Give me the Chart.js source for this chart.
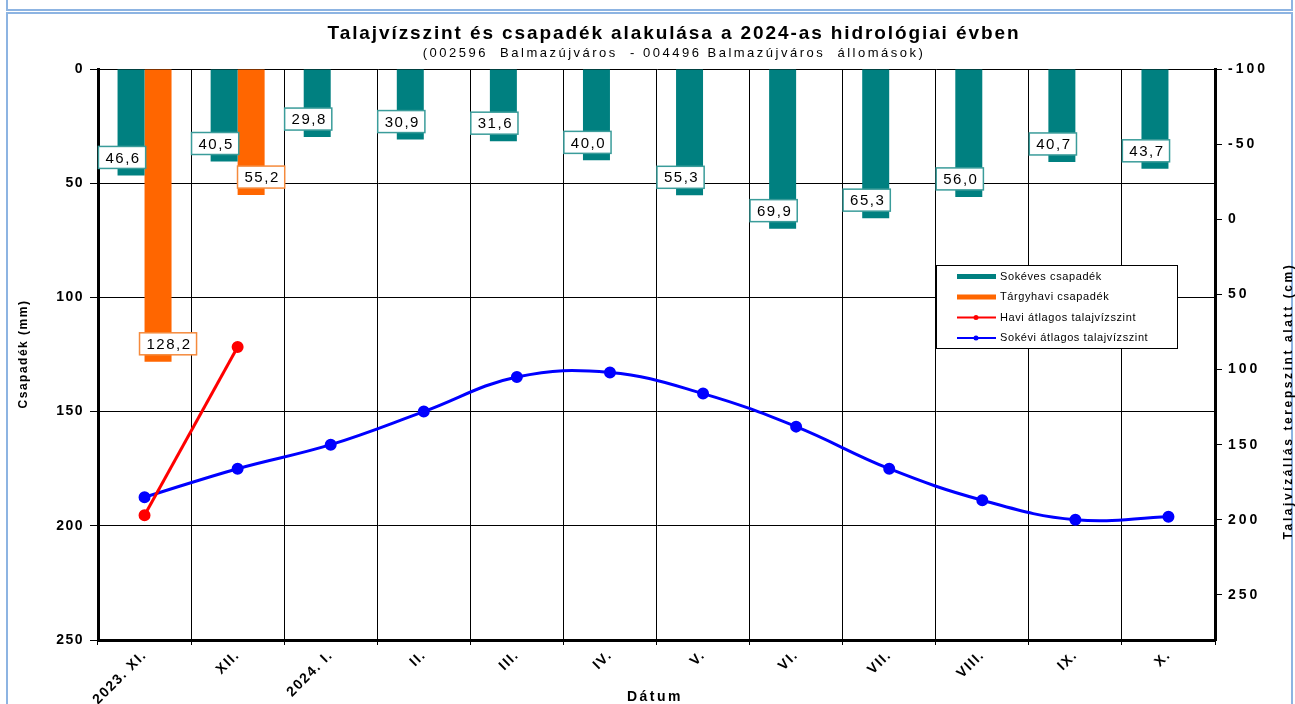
<!DOCTYPE html>
<html>
<head>
<meta charset="utf-8">
<script src="https://cdn.jsdelivr.net/npm/chart.js@4.4.1/dist/chart.umd.min.js"></script>
<style>
  html, body { margin: 0; padding: 0; background: #fff; overflow: hidden; }
  #wrap { position: relative; width: 1295px; height: 704px; }
  .frame { position: absolute; border: 2px solid #8db4e2; box-sizing: border-box; }
  #f1 { left: 6px; top: -12px; width: 1287px; height: 23px; }
  #f2 { left: 6px; top: 12px; width: 1287px; height: 720px; }
  canvas { position: absolute; left: 0; top: 0; }
</style>
</head>
<body>
<div id="wrap">
  <div class="frame" id="f1"></div>
  <div class="frame" id="f2"></div>
  <canvas id="chart" width="1295" height="704"></canvas>
</div>
<script>
// adatok
const months = ['2023. XI.', 'XII.', '2024. I.', 'II.', 'III.', 'IV.', 'V.', 'VI.', 'VII.', 'VIII.', 'IX.', 'X.'];
const longTermRain = [46.6, 40.5, 29.8, 30.9, 31.6, 40.0, 55.3, 69.9, 65.3, 56.0, 40.7, 43.7];
const monthRain = [128.2, 55.2, null, null, null, null, null, null, null, null, null, null];
const monthLevel = [197, 85, null, null, null, null, null, null, null, null, null, null];
const longTermLevel = [185, 166, 150, 128, 105, 102, 116, 138, 166, 187, 200, 198];
const rainTicks = [0, 50, 100, 150, 200, 250];
const levelTicks = [-100, -50, 0, 50, 100, 150, 200, 250];

const FONT = 'Arial, "Liberation Sans", sans-serif';
const TEAL = '#008080';
const ORANGE = '#ff6600';

// keretes adatcimkek az oszlopok vegen
const barLabels = {
  id: 'barLabels',
  afterDatasetsDraw(chart) {
    const ctx = chart.ctx;
    chart.data.datasets.forEach((ds, i) => {
      if (ds.type !== 'bar') return;
      const meta = chart.getDatasetMeta(i);
      meta.data.forEach((bar, j) => {
        const v = ds.data[j];
        if (v == null) return;
        const txt = v.toFixed(1).replace('.', ',');
        ctx.save();
        ctx.font = '15px ' + FONT;
        ctx.letterSpacing = '1.5px';
        const w = ctx.measureText(txt).width + 12;
        const h = 22;
        const cx = bar.x + ds.labelDx;
        const cy = bar.y - 18;
        ctx.fillStyle = '#fff';
        ctx.fillRect(cx - w / 2, cy - h / 2, w, h);
        ctx.strokeStyle = ds.labelBorder;
        ctx.lineWidth = 1.5;
        ctx.strokeRect(cx - w / 2, cy - h / 2, w, h);
        ctx.fillStyle = '#000';
        ctx.textAlign = 'center';
        ctx.textBaseline = 'middle';
        ctx.fillText(txt, cx + 1, cy + 1);
        ctx.restore();
      });
    });
  }
};

function vText(ctx, txt, x, y, font, spacing) {
  ctx.save();
  ctx.translate(x, y);
  ctx.rotate(-Math.PI / 2);
  ctx.font = font;
  ctx.letterSpacing = spacing;
  ctx.textAlign = 'center';
  ctx.textBaseline = 'middle';
  ctx.fillText(txt, 0, 0);
  ctx.restore();
}

// cim, tengelycimek, jobb tengely feliratai, jelmagyarazat
const decor = {
  id: 'decor',
  beforeDraw(chart) {
    chart.ctx.letterSpacing = '1.5px';
  },
  afterDraw(chart) {
    const ctx = chart.ctx;
    ctx.save();
    ctx.fillStyle = '#000';
    ctx.textAlign = 'center';
    ctx.textBaseline = 'middle';
    ctx.font = 'bold 19px ' + FONT;
    ctx.letterSpacing = '1.9px';
    ctx.fillText('Talajvízszint és csapadék alakulása a 2024-as hidrológiai évben', 674, 34);
    ctx.font = '13px ' + FONT;
    ctx.letterSpacing = '2.5px';
    ctx.fillText('(002596  Balmazújváros  - 004496 Balmazújváros  állomások)', 674, 53);

    ctx.font = 'bold 14px ' + FONT;
    ctx.letterSpacing = '2.5px';
    ctx.fillText('Dátum', 655, 697);

    vText(ctx, 'Csapadék (mm)', 24, 354, 'bold 12px ' + FONT, '1.5px');
    vText(ctx, 'Talajvízállás terepszint alatt (cm)', 1289, 401, 'bold 12px ' + FONT, '2.6px');

    // jobb tengely
    const y2 = chart.scales.y2;
    ctx.font = 'bold 14px ' + FONT;
    ctx.letterSpacing = '3px';
    ctx.textAlign = 'left';
    levelTicks.forEach(v => {
      ctx.fillText(String(v), y2.left + 13, y2.getPixelForValue(v));
    });
    ctx.restore();

    // jelmagyarazat
    const lx = 936, ly = 265, lw = 241, lh = 83;
    ctx.save();
    ctx.fillStyle = '#fff';
    ctx.fillRect(lx, ly, lw, lh);
    ctx.strokeStyle = '#000';
    ctx.lineWidth = 1;
    ctx.strokeRect(lx + 0.5, ly + 0.5, lw, lh);
    const order = [2, 3, 0, 1];
    ctx.font = '11px ' + FONT;
    ctx.letterSpacing = '0.6px';
    ctx.textBaseline = 'middle';
    order.forEach((di, k) => {
      const ds = chart.data.datasets[di];
      const y = ly + 11.5 + k * 20.5;
      if (ds.type === 'bar') {
        ctx.fillStyle = ds.backgroundColor;
        ctx.fillRect(lx + 21, y - 2.5, 39, 5);
      } else {
        ctx.strokeStyle = ds.borderColor;
        ctx.lineWidth = 2;
        ctx.beginPath();
        ctx.moveTo(lx + 21, y);
        ctx.lineTo(lx + 60, y);
        ctx.stroke();
        ctx.fillStyle = ds.borderColor;
        ctx.beginPath();
        ctx.arc(lx + 40, y, 2.5, 0, Math.PI * 2);
        ctx.fill();
      }
      ctx.fillStyle = '#000';
      ctx.textAlign = 'left';
      ctx.fillText(ds.label, lx + 64, y);
    });
    ctx.restore();
  }
};

new Chart(document.getElementById('chart').getContext('2d'), {
  data: {
    labels: months,
    datasets: [
      { type: 'line', label: 'Havi átlagos talajvízszint', data: monthLevel, yAxisID: 'y2',
        borderColor: '#ff0000', backgroundColor: '#ff0000', borderWidth: 3,
        pointRadius: 4.5, pointHoverRadius: 4.5, tension: 0, order: 0 },
      { type: 'line', label: 'Sokévi átlagos talajvízszint', data: longTermLevel, yAxisID: 'y2',
        borderColor: '#0000ff', backgroundColor: '#0000ff', borderWidth: 3,
        pointRadius: 4.5, pointHoverRadius: 4.5, tension: 0.4, order: 0 },
      { type: 'bar', label: 'Sokéves csapadék', data: longTermRain, yAxisID: 'y',
        backgroundColor: TEAL, order: 1, labelDx: -9, labelBorder: '#3a9c9a' },
      { type: 'bar', label: 'Tárgyhavi csapadék', data: monthRain, yAxisID: 'y',
        backgroundColor: ORANGE, order: 1, labelDx: 10, labelBorder: '#f58a3c' }
    ]
  },
  options: {
    responsive: false,
    animation: false,
    devicePixelRatio: 1,
    layout: { padding: { top: 69, left: 0, right: 0, bottom: 0 } },
    datasets: { bar: { categoryPercentage: 0.58, barPercentage: 1 } },
    plugins: {
      legend: { display: false },
      title: { display: false },
      tooltip: { enabled: false }
    },
    scales: {
      x: {
        grid: { color: '#000', lineWidth: 1, tickLength: 5, offset: true },
        border: { color: '#000', width: 3 },
        ticks: { color: '#000', font: { family: FONT, size: 14, weight: 'bold' },
                 maxRotation: 45, minRotation: 45, autoSkip: false, padding: 2 },
        afterFit(s) { s.height = 64; }
      },
      y: {
        position: 'left', reverse: true, min: 0, max: 250,
        afterBuildTicks(s) { s.ticks = rainTicks.map(v => ({ value: v })); },
        grid: { color: '#000', lineWidth: 1, tickLength: 8 },
        border: { color: '#000', width: 3 },
        ticks: { color: '#000', font: { family: FONT, size: 14, weight: 'bold' }, padding: 6 },
        afterFit(s) { s.width = 98; }
      },
      y2: {
        position: 'right', reverse: true, min: -100, max: 280,
        afterBuildTicks(s) { s.ticks = levelTicks.map(v => ({ value: v })); },
        grid: { drawOnChartArea: false, color: '#000', lineWidth: 1, tickLength: 7 },
        border: { color: '#000', width: 3 },
        ticks: { color: 'rgba(0,0,0,0)', font: { family: FONT, size: 14, weight: 'bold' }, padding: 6 },
        afterFit(s) { s.width = 80; }
      }
    }
  },
  plugins: [barLabels, decor]
});
</script>
</body>
</html>
